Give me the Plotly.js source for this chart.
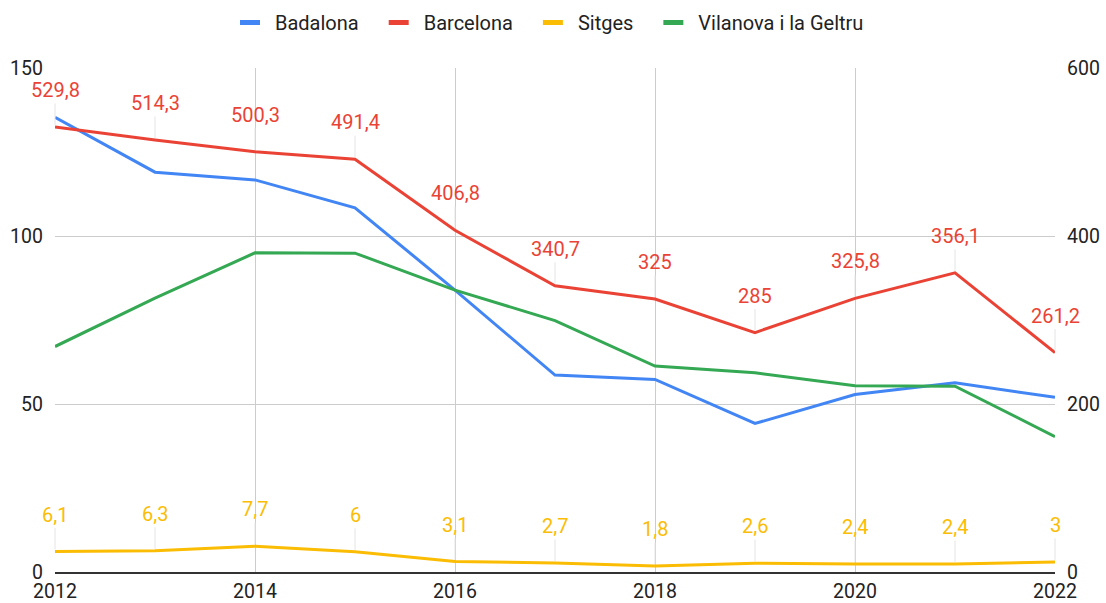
<!DOCTYPE html>
<html>
<head>
<meta charset="utf-8">
<script src="https://cdn.plot.ly/plotly-3.0.1.min.js"></script>
<style>html,body{margin:0;padding:0;background:#fff}#chart{width:1106px;height:603px}</style>
</head>
<body>
<div id="chart"></div>
<script>
const years = [2012, 2013, 2014, 2015, 2016, 2017, 2018, 2019, 2020, 2021, 2022];
const badalona = [135.3, 119.0, 116.7, 108.4, 83.9, 58.6, 57.3, 44.2, 52.8, 56.3, 52.0];
const barcelona = [529.8, 514.3, 500.3, 491.4, 406.8, 340.7, 325, 285, 325.8, 356.1, 261.2];
const sitges = [6.1, 6.3, 7.7, 6, 3.1, 2.7, 1.8, 2.6, 2.4, 2.4, 3];
const vilanova = [67.1, 81.5, 95.0, 94.9, 83.9, 74.8, 61.3, 59.3, 55.4, 55.3, 40.3];
const seriesNames = ['Badalona', 'Barcelona', 'Sitges', 'Vilanova i la Geltru'];
const colors = ['#4285F4', '#EA4335', '#FBBC04', '#34A853'];
const xTicks = [2012, 2014, 2016, 2018, 2020, 2022];
const leftTicks = [0, 50, 100, 150];
const rightTicks = [0, 200, 400, 600];

const fmt = v => String(v).replace('.', ',');
const font = 'Roboto, Arial, sans-serif';
const textColor = '#222';

const traces = [
  {x: years, y: badalona, name: seriesNames[0], yaxis: 'y', line: {color: colors[0], width: 3}},
  {x: years, y: barcelona, name: seriesNames[1], yaxis: 'y2', line: {color: colors[1], width: 3}},
  {x: years, y: sitges, name: seriesNames[2], yaxis: 'y', line: {color: colors[2], width: 3}},
  {x: years, y: vilanova, name: seriesNames[3], yaxis: 'y', line: {color: colors[3], width: 3}}
].map(t => Object.assign({type: 'scatter', mode: 'lines', hoverinfo: 'x+y'}, t));

const annotations = [];
function addLabels(vals, yref, color) {
  vals.forEach((v, i) => {
    annotations.push({
      x: years[i], y: v, xref: 'x', yref: yref,
      text: fmt(v), showarrow: true, arrowhead: 0, arrowwidth: 1,
      arrowcolor: '#e4e4e4', ax: 0, ay: -37, standoff: 2,
      font: {family: font, size: 20, color: color}
    });
  });
}
addLabels(barcelona, 'y2', colors[1]);
addLabels(sitges, 'y', colors[2]);

const tickFont = {family: font, size: 19.5, color: textColor};

const layout = {
  width: 1106, height: 603,
  margin: {l: 55, r: 51, t: 68, b: 31, pad: 0},
  paper_bgcolor: '#fff', plot_bgcolor: '#fff',
  font: {family: font, size: 19.5, color: textColor},
  showlegend: true,
  legend: {orientation: 'h', x: 0.487, xanchor: 'center', y: 0.995, yref: 'container', yanchor: 'top',
           font: {family: font, size: 20, color: textColor}, itemwidth: 50, traceorder: 'normal'},
  xaxis: {range: [2012, 2022], tickvals: xTicks, ticktext: xTicks.map(String),
          showgrid: true, gridcolor: '#cccccc', gridwidth: 1, zeroline: false,
          showline: true, linecolor: '#333', linewidth: 1.5, ticks: '', ticklabelstandoff: 1,
          tickfont: tickFont, fixedrange: true},
  yaxis: {range: [0, 150], tickvals: leftTicks, showgrid: true, gridcolor: '#cccccc',
          gridwidth: 1, zeroline: false, showline: false, ticks: '', ticklabelstandoff: 11,
          tickfont: tickFont, fixedrange: true},
  yaxis2: {range: [0, 600], tickvals: rightTicks, overlaying: 'y', side: 'right',
           showgrid: false, zeroline: false, showline: false, ticks: '', ticklabelstandoff: 11,
           tickfont: tickFont, fixedrange: true},
  annotations: annotations,
  separators: ',.'
};

Plotly.newPlot('chart', traces, layout, {displayModeBar: false, staticPlot: true}).then(gd => {
  gd.querySelectorAll('.legend .legendlines path').forEach(p => {
    p.setAttribute('d', 'M25,0h20');
    p.style.strokeWidth = '5px';
  });
});
</script>
</body>
</html>
